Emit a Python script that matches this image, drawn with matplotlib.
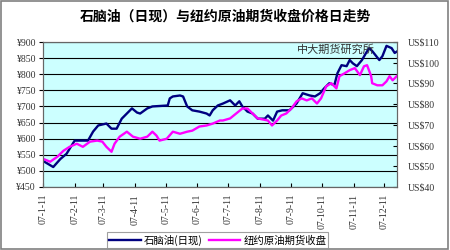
import matplotlib
matplotlib.use('Agg')
import matplotlib.pyplot as plt
import pandas as pd
from matplotlib.patches import Rectangle

plt.rcParams['font.family'] = ['Noto Sans CJK SC', 'DejaVu Sans']

# naphtha (spot), yuan
naphtha_dates = ['2007-01-11', '2007-01-21', '2007-01-28', '2007-02-03', '2007-02-09', '2007-02-11',
                 '2007-02-24', '2007-03-01', '2007-03-06', '2007-03-14', '2007-03-19', '2007-03-24',
                 '2007-03-29', '2007-04-03', '2007-04-08', '2007-04-13', '2007-04-16', '2007-04-23',
                 '2007-04-28', '2007-05-13', '2007-05-15', '2007-05-18', '2007-05-25', '2007-05-28',
                 '2007-06-01', '2007-06-06', '2007-06-13', '2007-06-20', '2007-06-23', '2007-06-26',
                 '2007-07-01', '2007-07-06', '2007-07-13', '2007-07-18', '2007-07-22', '2007-07-25',
                 '2007-07-30', '2007-08-04', '2007-08-09', '2007-08-16', '2007-08-19', '2007-08-24',
                 '2007-08-28', '2007-09-02', '2007-09-09', '2007-09-16', '2007-09-22', '2007-09-29',
                 '2007-10-04', '2007-10-09', '2007-10-13', '2007-10-18', '2007-10-23', '2007-10-26',
                 '2007-10-30', '2007-11-04', '2007-11-07', '2007-11-10', '2007-11-14', '2007-11-19',
                 '2007-11-23', '2007-11-26', '2007-11-29', '2007-12-03', '2007-12-06', '2007-12-09',
                 '2007-12-13', '2007-12-18', '2007-12-21', '2007-12-23']
naphtha = [531, 512, 537, 553, 584, 594,
           594, 622, 641, 647, 631, 631,
           662, 678, 694, 681, 678, 694,
           700, 703, 725, 731, 734, 731,
           700, 688, 684, 678, 672, 688,
           703, 709, 719, 703, 716, 700,
           684, 678, 662, 662, 672, 656,
           684, 688, 688, 709, 741, 734,
           731, 741, 756, 772, 766, 803,
           828, 825, 844, 834, 825, 844,
           866, 881, 872, 856, 844, 856,
           888, 881, 866, 870]

# NYMEX crude futures close, USD
crude_dates = ['2007-01-11', '2007-01-18', '2007-01-25', '2007-01-31', '2007-02-06', '2007-02-13',
               '2007-02-19', '2007-02-26', '2007-03-05', '2007-03-10', '2007-03-14', '2007-03-19',
               '2007-03-22', '2007-03-27', '2007-04-03', '2007-04-09', '2007-04-16', '2007-04-23',
               '2007-04-28', '2007-05-02', '2007-05-05', '2007-05-12', '2007-05-18', '2007-05-25',
               '2007-06-01', '2007-06-06', '2007-06-13', '2007-06-20', '2007-06-26', '2007-07-03',
               '2007-07-06', '2007-07-13', '2007-07-19', '2007-07-25', '2007-07-30', '2007-08-04',
               '2007-08-09', '2007-08-14', '2007-08-19', '2007-08-23', '2007-08-28', '2007-09-01',
               '2007-09-06', '2007-09-11', '2007-09-16', '2007-09-21', '2007-09-26', '2007-10-01',
               '2007-10-06', '2007-10-10', '2007-10-15', '2007-10-20', '2007-10-25', '2007-10-28',
               '2007-11-02', '2007-11-07', '2007-11-12', '2007-11-17', '2007-11-21', '2007-11-24',
               '2007-11-28', '2007-11-29', '2007-12-04', '2007-12-09', '2007-12-13', '2007-12-16',
               '2007-12-19', '2007-12-23']
crude = [53.6, 52.2, 54.6, 57.5, 59.4, 60.9,
         59.4, 61.9, 62.4, 61.9, 59.4, 57.0,
         60.9, 64.3, 66.7, 64.3, 63.3, 64.3,
         66.7, 64.8, 62.4, 63.3, 66.7, 65.7,
         66.7, 67.2, 69.2, 69.7, 70.6, 72.1,
         72.1, 73.1, 75.5, 77.9, 77.9, 75.5,
         73.1, 72.6, 72.1, 69.7, 72.1, 74.5,
         75.5, 77.9, 81.3, 82.8, 81.8, 82.8,
         80.3, 82.8, 88.6, 90.1, 87.6, 93.5,
         94.9, 96.4, 97.4, 94.0, 98.3, 98.8,
         93.5, 90.1, 89.1, 89.1, 91.0, 93.5,
         91.5, 93.5]

tick_dates = ['2007-%02d-11' % m for m in range(1, 13)]
tick_labels = ['07-%d-11' % m for m in range(1, 13)]
left_ticks = list(range(450, 901, 50))
right_ticks = list(range(40, 111, 10))

title = '石脑油（日现）与纽约原油期货收盘价格日走势'
names = ['石脑油(日现)', '纽约原油期货收盘']

fig = plt.figure(figsize=(4.5, 2.5), dpi=100)
fig.patches.append(Rectangle((0.002, 0.004), 0.994, 0.992, transform=fig.transFigure,
                             fill=False, edgecolor='#808080', linewidth=1.2))

ax = fig.add_axes([0.0956, 0.252, 0.786, 0.58])
ax.set_facecolor('#CCFFFF')
ax2 = ax.twinx()

l1, = ax.plot(pd.to_datetime(naphtha_dates), naphtha, color='#000080', linewidth=1.7)
l2, = ax2.plot(pd.to_datetime(crude_dates), crude, color='#FF00FF', linewidth=1.7)

ax.set_ylim(450, 900)
ax.set_yticks(left_ticks)
ax.set_yticklabels(['¥%d' % v for v in left_ticks], family='Liberation Serif', fontsize=7, color='#333333')
ax.yaxis.grid(True, color='black', linewidth=0.8)
ax.set_axisbelow(True)

ax2.set_ylim(40, 110)
ax2.set_yticks(right_ticks)
ax2.set_yticklabels(['US$%d' % v for v in right_ticks], family='Liberation Serif', fontsize=7, color='#333333')
ax2.tick_params(axis='y', direction='in', length=3, pad=8)

ax.set_xlim(pd.Timestamp('2007-01-11'), pd.Timestamp('2007-12-23'))
ax.set_xticks(pd.to_datetime(tick_dates))
ax.set_xticklabels(tick_labels, rotation=90, family='Liberation Serif', fontsize=7, color='#333333')
ax.tick_params(axis='x', direction='in', length=3, pad=5)
ax.tick_params(axis='y', length=3, pad=2)

for a in (ax, ax2):
    for s in a.spines.values():
        s.set_color('#666666')
        s.set_linewidth(0.8)

ax.text(0.828, 0.945, '中大期货研究所', transform=ax.transAxes, ha='center', va='center',
        fontsize=8, color='#333333')

fig.text(0.5, 0.932, title, ha='center', va='center', fontsize=10, fontweight='bold')

leg = fig.legend([l1, l2], names, loc='center', bbox_to_anchor=(0.484, 0.04), ncol=2,
                 fontsize=7.5, frameon=True, fancybox=False, handlelength=3, borderpad=0.2,
                 columnspacing=0.6, handletextpad=0.3)
leg.get_frame().set_edgecolor('#888888')
leg.get_frame().set_linewidth(0.8)

fig.savefig('out.png', dpi=100)
